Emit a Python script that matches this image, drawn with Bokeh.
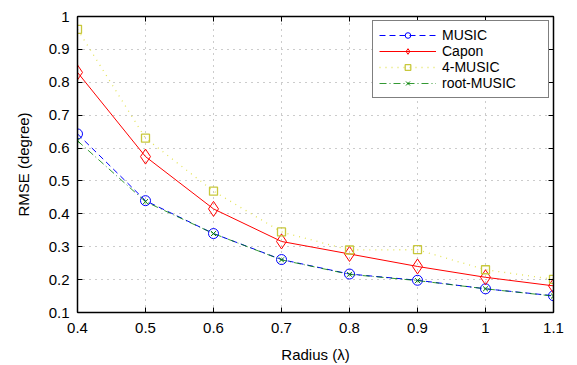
from bokeh.plotting import figure
from bokeh.models import LinearAxis, FixedTicker, Range1d, Legend
from bokeh.embed import file_html
from bokeh.resources import INLINE

radius = [0.4, 0.5, 0.6, 0.7, 0.8, 0.9, 1.0, 1.1]
music = [0.643, 0.440, 0.340, 0.261, 0.217, 0.198, 0.172, 0.151]
capon = [0.830, 0.574, 0.415, 0.316, 0.278, 0.240, 0.207, 0.181]
music4 = [0.961, 0.630, 0.469, 0.345, 0.290, 0.291, 0.230, 0.201]
root_music = [0.622, 0.437, 0.340, 0.260, 0.216, 0.197, 0.172, 0.150]

x_ticks = [0.4, 0.5, 0.6, 0.7, 0.8, 0.9, 1.0, 1.1]
x_tick_labels = ["0.4", "0.5", "0.6", "0.7", "0.8", "0.9", "1", "1.1"]
y_ticks = [0.1, 0.2, 0.3, 0.4, 0.5, 0.6, 0.7, 0.8, 0.9, 1.0]
y_tick_labels = ["0.1", "0.2", "0.3", "0.4", "0.5", "0.6", "0.7", "0.8", "0.9", "1"]

FONT = "Liberation Sans"

p = figure(width=569, height=365, output_backend="svg", toolbar_location=None,
           x_range=Range1d(0.4, 1.1), y_range=Range1d(0.1, 1.0),
           min_border_left=77, min_border_right=16, min_border_top=16, min_border_bottom=52)
p.xaxis.visible = False
p.yaxis.visible = False

def style_axis(ax):
    ax.major_tick_in = 5
    ax.major_tick_out = 0
    ax.minor_tick_in = 5
    ax.minor_tick_out = 0
    ax.axis_line_color = "black"
    ax.axis_line_width = 1.5
    ax.major_tick_line_color = "black"
    ax.minor_tick_line_color = "black"
    ax.major_label_text_font = FONT
    ax.major_label_text_font_size = "15px"
    ax.major_label_text_color = "black"
    ax.axis_label_text_font = FONT
    ax.axis_label_text_font_size = "15px"
    ax.axis_label_text_font_style = "normal"
    ax.axis_label_text_color = "black"

xb = LinearAxis(axis_label="Radius (\u03bb)", ticker=FixedTicker(ticks=x_ticks))
style_axis(xb)
xb.major_label_overrides = dict(zip(x_ticks, x_tick_labels))
xb.major_label_standoff = 10
xb.axis_label_standoff = 10
p.add_layout(xb, "below")

yl = LinearAxis(axis_label="RMSE (degree)", ticker=FixedTicker(ticks=y_ticks))
style_axis(yl)
yl.major_label_overrides = dict(zip(y_ticks, y_tick_labels))
yl.major_label_standoff = 8
yl.axis_label_standoff = 14
p.add_layout(yl, "left")

# box axes on top/right: ticks only (drawn as minor ticks, so no labels)
xt = LinearAxis(ticker=FixedTicker(ticks=[], minor_ticks=x_ticks))
style_axis(xt)
p.add_layout(xt, "above")
yr = LinearAxis(ticker=FixedTicker(ticks=[], minor_ticks=y_ticks))
style_axis(yr)
p.add_layout(yr, "right")

p.xgrid.ticker = FixedTicker(ticks=x_ticks)
p.ygrid.ticker = FixedTicker(ticks=y_ticks)
for g in (p.xgrid, p.ygrid):
    g.grid_line_color = "#999999"
    g.grid_line_dash = "1 5"
    g.grid_line_width = 1
p.outline_line_color = "black"

# series
l1 = p.line(radius, music, line_color="#0000ff", line_dash="6 4", line_width=1)
m1 = p.scatter(radius, music, marker="circle", size=10, fill_color=None, line_color="#0000ff", line_width=1)
l2 = p.line(radius, capon, line_color="#ff0000", line_width=1)
m2 = p.scatter(radius, capon, marker="diamond", size=15, fill_color=None, line_color="#ff0000", line_width=1)
l3 = p.line(radius, music4, line_color="#e4e45a", line_dash="1 5", line_width=1.3)
m3 = p.scatter(radius, music4, marker="square", size=8, fill_color=None, line_color="#c8c83c", line_width=1.3)
l4 = p.line(radius, root_music, line_color="#008000", line_dash="7 3 1 3", line_width=1, line_alpha=0.8)
m4 = p.scatter(radius, root_music, marker="x", size=7, line_color="#008000", line_width=1)

legend = Legend(items=[("MUSIC", [l1, m1]), ("Capon", [l2, m2]),
                       ("4-MUSIC", [l3, m3]), ("root-MUSIC", [l4, m4])],
                location="top_right")
legend.label_text_font = FONT
legend.label_text_font_size = "14px"
legend.label_text_color = "black"
legend.glyph_width = 57
legend.glyph_height = 14
legend.label_height = 14
legend.label_width = 100
legend.label_standoff = 6
legend.spacing = 0
legend.padding = 6
legend.margin = 4
legend.border_line_color = "black"
legend.border_line_width = 1.3
legend.background_fill_color = "white"
legend.background_fill_alpha = 1
p.add_layout(legend, "center")

open("out.html", "w").write(file_html(p, INLINE))
